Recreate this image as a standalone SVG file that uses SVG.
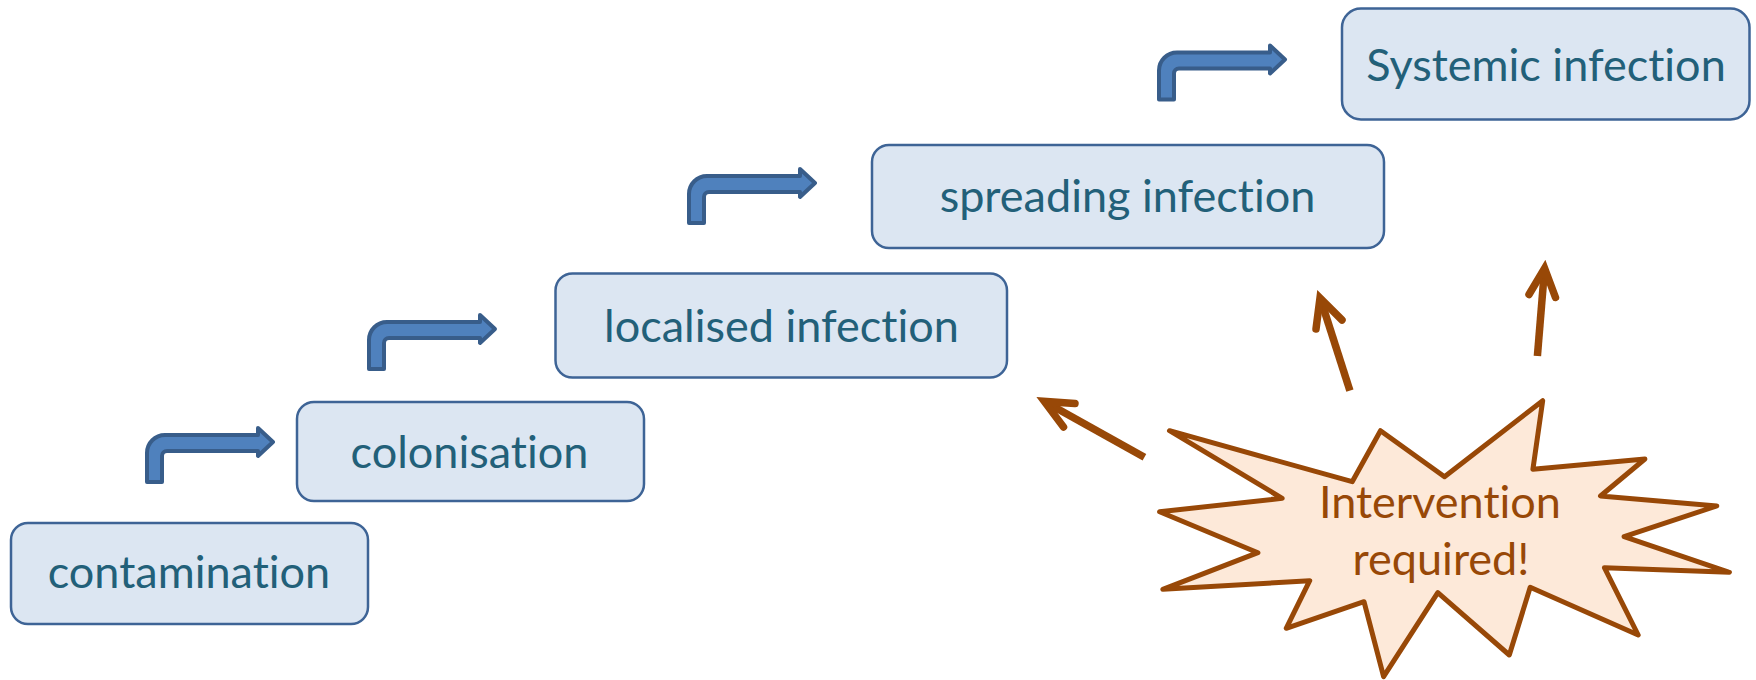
<svg xmlns="http://www.w3.org/2000/svg" width="1756" height="680" viewBox="0 0 1756 680">
<style>
.box{fill:#DCE6F2;stroke:#3E6496;stroke-width:2.5}
.lbl{font-family:Lato,"Open Sans","Liberation Sans",sans-serif;font-size:45px;fill:#226079;text-anchor:middle;font-variant-ligatures:none;font-feature-settings:"liga" 0,"clig" 0,"dlig" 0}
.bent{fill:#4F81BD;stroke:#385D8A;stroke-width:4;stroke-linejoin:round}
.shaft{stroke:#984807;stroke-width:7.5;fill:none;stroke-linecap:butt}
.head{stroke:#984807;stroke-width:7.5;fill:none;stroke-linecap:round;stroke-linejoin:miter;stroke-miterlimit:10}
.star{fill:#FDE9D9;stroke:#984807;stroke-width:5;stroke-linejoin:round}
.burst{font-family:Lato,"Open Sans","Liberation Sans",sans-serif;font-size:45px;fill:#984807;text-anchor:middle;font-variant-ligatures:none;font-feature-settings:"liga" 0,"clig" 0,"dlig" 0}
</style>
<defs>
<path id="bentArrow" d="M2,56 L2,27 A18,18 0 0 1 20,9 L113,9 L113,2 L128,16 L113,30 L113,25 L22,25 A5,5 0 0 0 17,30 L17,56 Z"/>
</defs>
<g id="connectors">
<use href="#bentArrow" class="bent" transform="translate(145,426)"/>
<use href="#bentArrow" class="bent" transform="translate(367,313)"/>
<use href="#bentArrow" class="bent" transform="translate(687,167)"/>
<use href="#bentArrow" class="bent" transform="translate(1157,43.5)"/>
<line class="shaft" x1="1144.4" y1="457.3" x2="1048" y2="403.5"/>
<polyline class="head" points="1075,403.5 1044.3,401.4 1063.5,427"/>
<line class="shaft" x1="1349.9" y1="390.7" x2="1321.5" y2="302"/>
<polyline class="head" points="1316,329 1320,298 1342,320"/>
<line class="shaft" x1="1537.4" y1="356" x2="1544.3" y2="272"/>
<polyline class="head" points="1529,294.5 1544.6,268.3 1555.5,297.5"/>
</g>
<g id="contamination">
<rect class="box" x="11" y="523" width="357" height="101" rx="17"/>
<text class="lbl" x="189" y="588">contamination</text>
</g>
<g id="colonisation">
<rect class="box" x="297" y="402" width="347" height="99" rx="17"/>
<text class="lbl" x="469.5" y="467.7">colonisation</text>
</g>
<g id="localised">
<rect class="box" x="555.5" y="273.5" width="451.5" height="104" rx="17"/>
<text class="lbl" x="781.5" y="341.7">localised infection</text>
</g>
<g id="spreading">
<rect class="box" x="872" y="145" width="512" height="103" rx="17"/>
<text class="lbl" x="1127.5" y="211.7">spreading infection</text>
</g>
<g id="systemic">
<rect class="box" x="1342" y="8.5" width="407.5" height="111" rx="19"/>
<text class="lbl" x="1546" y="80.7">Systemic infection</text>
</g>
<g id="intervention">
<polygon class="star" points="1169.5,430.7 1352.2,481.7 1380.5,430.7 1444.5,476.7 1542.7,400.7 1532.9,469.3 1644.9,459 1600.5,496 1716.8,506 1624.1,536.7 1729.4,572.3 1604.4,567.7 1638.2,635 1530.2,587.3 1509.3,655 1437.8,592.7 1383.6,676.7 1364,601.7 1286.2,628.3 1309.7,580.7 1162.8,589.3 1257.9,552.7 1159.6,511.7 1282.2,498.3"/>
<text class="burst" x="1440" y="518">Intervention</text>
<text class="burst" x="1441" y="575">required!</text>
</g>
</svg>
